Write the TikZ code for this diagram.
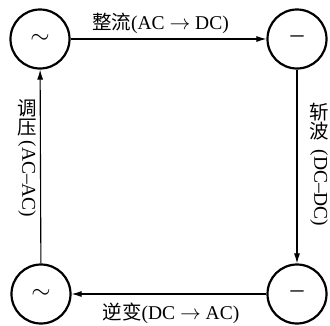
\documentclass[tikz,border=0pt]{standalone}
\usepackage{fontspec}
\setmainfont{Liberation Serif}
\newfontfamily\cjk{Noto Sans CJK SC}
\usetikzlibrary{arrows.meta}
\begin{document}
\begin{tikzpicture}[x=1pt,y=-1pt,
  state/.style={circle,draw,line width=2.2pt,minimum size=59pt,inner sep=0pt,font=\fontsize{26}{26}\selectfont},
  conn/.style={line width=1.1pt,-{Latex[length=10pt,width=6pt]}},
  lbl/.style={font=\fontsize{19.5}{21}\selectfont,inner sep=0pt}]
\useasboundingbox (0,0) rectangle (330,325);
\node[state] (tl) at (40,39) {$\sim$};
\node[state] (tr) at (297,39) {--};
\node[state] (bl) at (41,294) {$\sim$};
\node[state] (br) at (297,294) {--};
\draw[conn] (tl) -- (tr) node[lbl,midway,above=5pt,xshift=-8pt] {{\cjk 整流}(AC $\rightarrow$ DC)};
\draw[conn] (br) -- (bl) node[lbl,midway,below=8pt,xshift=2pt] {{\cjk 逆变}(DC $\rightarrow$ AC)};
\draw[conn] (bl) -- (tl);
\draw[conn] (tr) -- (br);
\node[lbl] (l1) at (27,108) {\cjk 调};
\node[lbl] (l2) at (27,128) {\cjk 压};
\node[lbl,rotate=-90] (l3) at (27,179) {(AC--AC)};
\node[lbl] (r1) at (319,112) {\cjk 斩};
\node[lbl] (r2) at (319,131) {\cjk 波};
\node[lbl,rotate=-90] (r3) at (319,188) {(DC--DC)};
\end{tikzpicture}
\end{document}
